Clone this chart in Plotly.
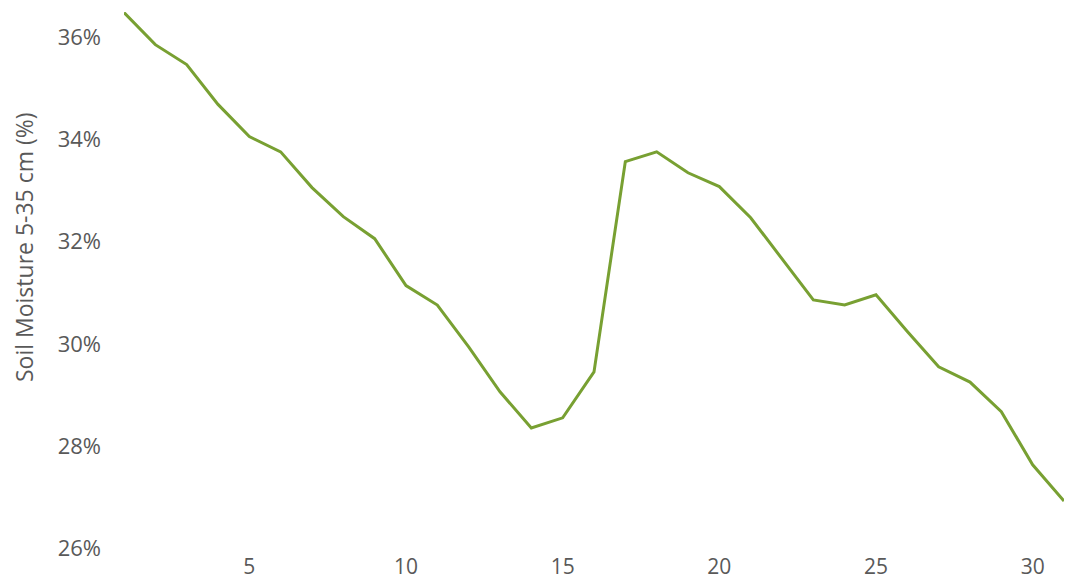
import plotly.graph_objects as go

days = list(range(1, 32))
soil_moisture = [36.49, 35.86, 35.47, 34.69, 34.06, 33.76, 33.06, 32.49, 32.06, 31.14,
                 30.76, 29.94, 29.06, 28.35, 28.55, 29.45, 33.57, 33.76, 33.35, 33.08,
                 32.47, 31.67, 30.86, 30.76, 30.96, 30.24, 29.55, 29.25, 28.67, 27.63,
                 26.92]
y_ticks = [26, 28, 30, 32, 34, 36]
y_tick_labels = ["26%", "28%", "30%", "32%", "34%", "36%"]
x_ticks = [5, 10, 15, 20, 25, 30]
y_title = "Soil Moisture 5-35 cm (%)"

FONT = "Open Sans"
GREY = "#595959"

fig = go.Figure()
fig.add_trace(go.Scatter(
    x=days, y=soil_moisture, mode="lines",
    line=dict(color="#78A032", width=3),
    showlegend=False, hoverinfo="x+y",
))

W, H = 1065, 585
ml, mr, mt, mb = 124, 1, 12, 37
fig.update_layout(
    width=W, height=H,
    margin=dict(l=ml, r=mr, t=mt, b=mb, autoexpand=False),
    paper_bgcolor="white", plot_bgcolor="white",
    font=dict(family=FONT, color=GREY, size=21),
)
fig.update_xaxes(
    range=[1, 31], tickvals=x_ticks, showgrid=False, zeroline=False,
    showline=False, ticks="", ticklabelstandoff=4, automargin=False,
    tickfont=dict(family=FONT, size=21, color=GREY),
)
fig.update_yaxes(
    range=[26, 36.5], tickvals=y_ticks, ticktext=y_tick_labels,
    showgrid=False, zeroline=False, showline=False, ticks="",
    ticklabelstandoff=22, automargin=False,
    tickfont=dict(family=FONT, size=22, color=GREY),
)
pw = W - ml - mr
ph = H - mt - mb
fig.add_annotation(
    text=y_title, textangle=-90, showarrow=False,
    xref="paper", yref="paper",
    x=(24 - ml) / pw, y=(H - mb - 247) / ph,
    xanchor="center", yanchor="middle",
    font=dict(family=FONT, size=23, color=GREY),
)

fig.write_html(
    "out.html",
    config={"displayModeBar": False},
    post_script="document.body.style.margin='0';document.body.style.overflow='hidden';",
)
